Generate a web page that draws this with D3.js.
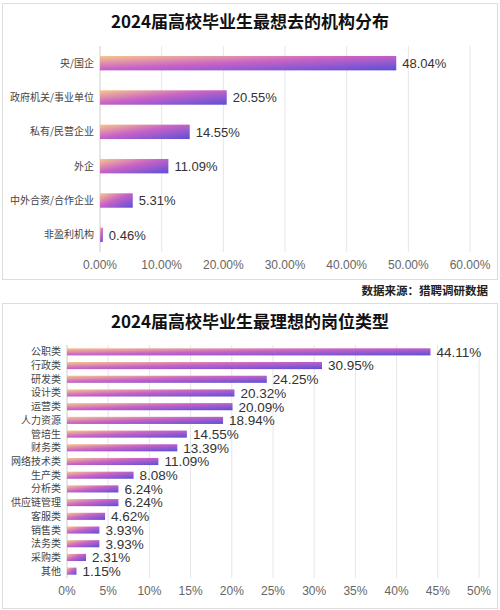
<!DOCTYPE html>
<html><head><meta charset="utf-8">
<script src="https://cdn.jsdelivr.net/npm/d3@7"></script>
<style>body{margin:0;background:#fff;font-family:"Noto Sans CJK SC","Noto Sans",sans-serif}</style>
</head><body>
<svg id="c" width="500" height="610"></svg>
<script>
var orgNames = ["央/国企","政府机关/事业单位","私有/民营企业","外企","中外合资/合作企业","非盈利机构"];
var orgValues = [48.04,20.55,14.55,11.09,5.31,0.46];
var orgTicks = [0,10,20,30,40,50,60];

var jobNames = ["公职类","行政类","研发类","设计类","运营类","人力资源","管培生","财务类","网络技术类","生产类","分析类","供应链管理","客服类","销售类","法务类","采购类","其他"];
var jobValues = [44.11,30.95,24.25,20.32,20.09,18.94,14.55,13.39,11.09,8.08,6.24,6.24,4.62,3.93,3.93,2.31,1.15];
var jobTicks = [0,5,10,15,20,25,30,35,40,45,50];

var svg = d3.select("#c");
var defs = svg.append("defs");
var g = defs.append("linearGradient").attr("id","grad")
  .attr("x1","0").attr("y1","0").attr("x2","1").attr("y2","1");
g.append("stop").attr("offset","0%").attr("stop-color","#f8c68c");
g.append("stop").attr("offset","45%").attr("stop-color","#c963c6");
g.append("stop").attr("offset","100%").attr("stop-color","#5a4fd8");

function panel(o) {
  svg.append("rect").attr("x",2.5).attr("y",o.top+0.5).attr("width",495).attr("height",o.h)
    .attr("fill","#fff").attr("stroke","#ddd");
  svg.append("text").attr("x",250).attr("y",o.top+25).attr("text-anchor","middle")
    .attr("font-size",17).attr("font-weight","bold").attr("fill","#111").text(o.title);

  var x = d3.scaleLinear().domain([0,o.ticks[o.ticks.length-1]]).range([o.x0,o.x1]);
  var y = d3.scaleBand().domain(o.names).range([o.y0,o.y1]).paddingInner(o.pad).paddingOuter(o.pad/2);

  var grid = svg.append("g");
  grid.selectAll("line").data(o.ticks).join("line")
    .attr("x1",d=>x(d)).attr("x2",d=>x(d)).attr("y1",o.y0).attr("y2",o.y1)
    .attr("stroke",d=>d===0?"#ccc":"#e6e6e6");
  grid.selectAll("text").data(o.ticks).join("text")
    .attr("x",d=>x(d)).attr("y",o.tickY).attr("text-anchor","middle")
    .attr("font-family","Liberation Sans, Arial").attr("font-size",12).attr("fill","#666")
    .text(o.fmt);

  var rows = svg.append("g").selectAll("g").data(o.names).join("g");
  rows.append("text").attr("x",o.x0-6).attr("y",d=>y(d)+y.bandwidth()/2).attr("dy","0.35em")
    .attr("text-anchor","end").attr("font-size",o.lab).attr("fill","#444").text(d=>d);
  rows.append("rect").attr("x",o.x0).attr("y",d=>y(d))
    .attr("width",(d,i)=>x(o.values[i])-o.x0).attr("height",y.bandwidth()).attr("fill","url(#grad)");
  rows.append("text").attr("x",(d,i)=>x(o.values[i])+6).attr("y",d=>y(d)+y.bandwidth()/2).attr("dy","0.36em")
    .attr("font-family","Liberation Sans, Arial").attr("font-size",o.val).attr("fill","#333")
    .text((d,i)=>o.values[i].toFixed(2)+"%");
}

panel({top:3,h:276,title:"2024届高校毕业生最想去的机构分布",names:orgNames,values:orgValues,ticks:orgTicks,
  x0:100,x1:470,y0:46,y1:252,pad:0.58,tickY:269,lab:10,val:13,fmt:d=>d.toFixed(2)+"%"});
svg.append("text").attr("x",488).attr("y",295).attr("text-anchor","end").attr("font-size",11.5)
  .attr("font-weight","bold").attr("fill","#222").text("数据来源：猎聘调研数据");

panel({top:303,h:305,title:"2024届高校毕业生最理想的岗位类型",names:jobNames,values:jobValues,ticks:jobTicks,
  x0:67,x1:479,y0:345,y1:578,pad:0.48,tickY:595,lab:10,val:13.5,fmt:d=>d+"%"});
</script>
</body></html>
